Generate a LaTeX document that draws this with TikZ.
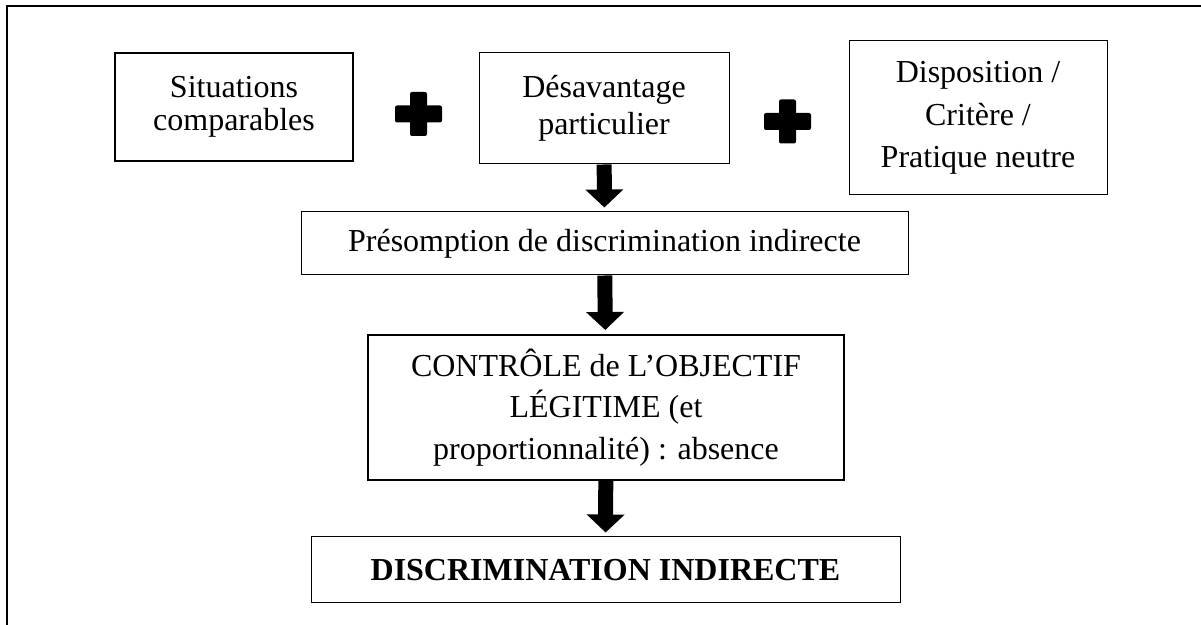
\documentclass[tikz,border=0pt]{standalone}
\usepackage{fontspec}
\setmainfont{Liberation Serif}
\usetikzlibrary{arrows.meta}

\begin{document}
\begin{tikzpicture}[x=0.5pt, y=-0.5pt,
    box/.style={draw, line width=0.5pt, inner sep=0pt, align=center, font=\fontsize{16}{21}\selectfont},
    thickbox/.style={box, line width=1pt},
    flow/.style={line width=7.5pt, -{Triangle[width=18.5pt, length=9pt]}, shorten >=2pt}]
    \useasboundingbox (0,0) rectangle (1201,625);
    \draw[line width=1pt] (7,625) -- (7,6) -- (1201,6);

    \node[thickbox, minimum width=119pt, minimum height=54pt, font=\fontsize{16}{16.5}\selectfont] (sit) at (234,107) {Situations\\comparables};
    \node[box, minimum width=125pt, minimum height=55.5pt, font=\fontsize{16}{18.5}\selectfont] (des) at (604,108.5) {Désavantage\\particulier};
    \node[box, minimum width=129pt, minimum height=77pt, font=\fontsize{16}{21.25}\selectfont] (dis) at (978,118) {Disposition /\\Critère /\\Pratique neutre};
    \node[box, minimum width=303.5pt, minimum height=31.5pt] (pre) at (604.5,243.5) {Présomption de discrimination indirecte};
    \node[thickbox, minimum width=238pt, minimum height=72.5pt, font=\fontsize{16}{20.75}\selectfont] (ctl) at (606,407.5) {CONTRÔLE de L’OBJECTIF\\LÉGITIME (et\\proportionnalité) : absence};
    \node[box, minimum width=294.5pt, minimum height=33pt, font=\fontsize{16}{21}\selectfont\bfseries] (ind) at (605.5,570) {DISCRIMINATION INDIRECTE};

    \foreach \x/\y in {418.5/114, 787.5/121.5} {
        \fill[rounded corners=1pt] (\x,\y) +(-23.5,-8.5) rectangle +(23.5,8.5);
        \fill[rounded corners=1pt] (\x,\y) +(-8.5,-22) rectangle +(8.5,22);
    }

    \draw[flow] (des) -- (pre);
    \draw[flow] (pre) -- (ctl);
    \draw[flow] (ctl) -- (ind);
\end{tikzpicture}
\end{document}
